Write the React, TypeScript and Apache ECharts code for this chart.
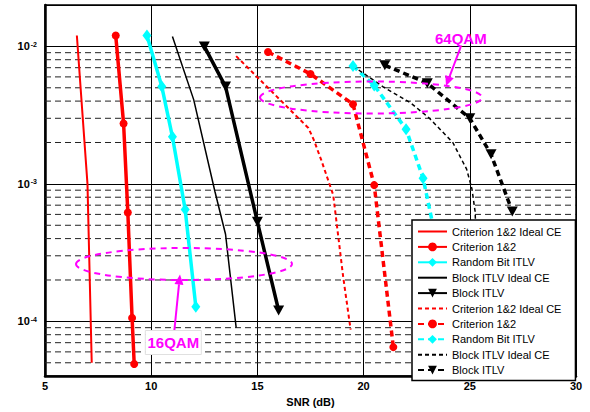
import React, { useEffect, useRef } from 'react';
import * as echarts from 'echarts';

// ---------- data (SNR in dB, BER) ----------
// 16QAM
const snr16CritIdeal = [6.5, 7.0, 7.2];
const ber16CritIdeal = [1.2e-2, 1.0e-3, 5.0e-5];
const snr16Crit = [8.33, 8.7, 8.9, 9.1, 9.2];
const ber16Crit = [1.2e-2, 2.75e-3, 6.2e-4, 1.06e-4, 4.9e-5];
const snr16Rand = [9.8, 10.5, 11.0, 11.6, 12.1];
const ber16Rand = [1.2e-2, 5.1e-3, 2.2e-3, 6.5e-4, 1.28e-4];
const snr16BlockIdeal = [11.0, 12.0, 13.0, 13.5, 14.0];
const ber16BlockIdeal = [1.18e-2, 4.1e-3, 8.8e-4, 4.3e-4, 9.0e-5];
const snr16Block = [12.5, 13.5, 15.0, 16.0];
const ber16Block = [1.0e-2, 5.1e-3, 5.3e-4, 1.2e-4];
// 64QAM
const snr64CritIdeal = [14.0, 17.4, 17.65, 18.0, 18.57, 19.04, 19.39];
const ber64CritIdeal = [8.5e-3, 2.55e-3, 2.1e-3, 1.5e-3, 8.3e-4, 2.1e-4, 8.7e-5];
const snr64Crit = [15.5, 17.5, 19.5, 20.5, 21.4];
const ber64Crit = [9.1e-3, 6.3e-3, 3.8e-3, 9.8e-4, 6.5e-5];
const snr64Rand = [19.5, 20.5, 22.0, 22.8, 23.4];
const ber64Rand = [7.2e-3, 5.2e-3, 2.5e-3, 1.1e-3, 4.0e-4];
const snr64BlockIdeal = [19.5, 20.9, 22.2, 23.1, 24.2, 24.85, 25.1, 25.25, 25.4];
const ber64BlockIdeal = [7.2e-3, 5.1e-3, 3.9e-3, 3.0e-3, 2.0e-3, 1.28e-3, 9.2e-4, 6.3e-4, 1.5e-4];
const snr64Block = [21.0, 23.0, 25.0, 26.0, 27.0];
const ber64Block = [7.3e-3, 5.4e-3, 3.0e-3, 1.64e-3, 6.3e-4];

// axis
const xTicks = [5, 10, 15, 20, 25, 30];
const yMin = 4e-5;
const yMax = 2e-2;
const minorGrid = [
  5e-5, 6e-5, 7e-5, 8e-5, 9e-5,
  2e-4, 3e-4, 4e-4, 5e-4, 6e-4, 7e-4, 8e-4, 9e-4,
  2e-3, 3e-3, 4e-3, 5e-3, 6e-3, 7e-3, 8e-3, 9e-3,
];

const legendNames = [
  'Criterion 1&2 Ideal CE (16QAM)',
  'Criterion 1&2 (16QAM)',
  'Random Bit ITLV (16QAM)',
  'Block ITLV Ideal CE (16QAM)',
  'Block ITLV (16QAM)',
  'Criterion 1&2 Ideal CE (64QAM)',
  'Criterion 1&2 (64QAM)',
  'Random Bit ITLV (64QAM)',
  'Block ITLV Ideal CE (64QAM)',
  'Block ITLV (64QAM)',
];
const noMarker = [true, false, false, true, false, true, false, false, true, false];

const FONT = 'Liberation Sans, Arial, Helvetica, sans-serif';
const RED = '#ff0000';
const CYAN = '#00ffff';
const BLACK = '#000000';
const MAG = '#ff00ff';
const TRI = 'path://M0,0 L10,0 L5,9 Z';

function pairs(xs: number[], ys: number[]) {
  return xs.map((x, i) => [x, ys[i]]);
}

function mkSeries(
  name: string,
  xs: number[],
  ys: number[],
  color: string,
  width: number,
  dashed: boolean,
  symbol: string,
  symbolSize: any
) {
  return {
    name,
    type: 'line',
    data: pairs(xs, ys),
    symbol,
    symbolSize,
    showSymbol: symbol !== 'none',
    lineStyle: { color, width, type: dashed ? (width > 2 ? [6, 4] : [4, 3]) : 'solid' },
    itemStyle: { color, borderWidth: 0 },
    emphasis: { disabled: true },
    z: 2,
  };
}

function arrow(x1: number, y1: number, x2: number, y2: number) {
  const dx = x2 - x1;
  const dy = y2 - y1;
  const L = Math.hypot(dx, dy);
  const ux = dx / L;
  const uy = dy / L;
  const hl = 10;
  const hw = 4.5;
  const bx = x2 - ux * hl;
  const by = y2 - uy * hl;
  return [
    {
      type: 'line',
      z: 3,
      shape: { x1, y1, x2: bx, y2: by },
      style: { stroke: MAG, lineWidth: 2 },
    },
    {
      type: 'polygon',
      z: 3,
      shape: { points: [[x2, y2], [bx - uy * hw, by + ux * hw], [bx + uy * hw, by - ux * hw]] },
      style: { fill: MAG },
    },
  ];
}

function label(text: string, cx: number, cy: number, boxed: boolean) {
  const els: any[] = [];
  if (boxed) {
    els.push({
      type: 'rect',
      z: 3,
      shape: { x: cx - 28, y: cy - 12, width: 56, height: 24 },
      style: { fill: '#ffffff', stroke: '#e0e0e0', lineWidth: 1 },
    });
  }
  els.push({
    type: 'text',
    z: 4,
    x: cx,
    y: cy,
    style: {
      text,
      fill: MAG,
      font: `bold 15px ${FONT}`,
      textAlign: 'center',
      textVerticalAlign: 'middle',
    },
  });
  return els;
}

export default function App() {
  const ref = useRef<HTMLDivElement>(null);
  useEffect(() => {
    document.body.style.margin = '0';
    const chart = echarts.init(ref.current!, null, { renderer: 'svg' });
    const gridSeries: any[] = minorGrid.map((v, i) => ({
      name: `minor-grid-${i}`,
      type: 'line',
      data: [[xTicks[0], v], [xTicks[xTicks.length - 1], v]],
      symbol: 'none',
      showSymbol: false,
      silent: true,
      lineStyle: { color: '#222222', width: 1, type: [6, 4] },
      emphasis: { disabled: true },
      z: 1,
    }));
    const series: any[] = [
      ...gridSeries,
      mkSeries(legendNames[0], snr16CritIdeal, ber16CritIdeal, RED, 2, false, 'none', 0),
      mkSeries(legendNames[1], snr16Crit, ber16Crit, RED, 3.5, false, 'circle', 8),
      mkSeries(legendNames[2], snr16Rand, ber16Rand, CYAN, 3.5, false, 'diamond', [9, 12]),
      mkSeries(legendNames[3], snr16BlockIdeal, ber16BlockIdeal, BLACK, 1.5, false, 'none', 0),
      mkSeries(legendNames[4], snr16Block, ber16Block, BLACK, 3.5, false, TRI, [11, 10]),
      mkSeries(legendNames[5], snr64CritIdeal, ber64CritIdeal, RED, 2, true, 'none', 0),
      mkSeries(legendNames[6], snr64Crit, ber64Crit, RED, 3.5, true, 'circle', 8),
      mkSeries(legendNames[7], snr64Rand, ber64Rand, CYAN, 3.5, true, 'diamond', [9, 12]),
      mkSeries(legendNames[8], snr64BlockIdeal, ber64BlockIdeal, BLACK, 1.5, true, 'none', 0),
      mkSeries(legendNames[9], snr64Block, ber64Block, BLACK, 3.5, true, TRI, [11, 10]),
    ];

    const graphic: any[] = [
      {
        type: 'ellipse',
        z: 3,
        shape: { cx: 184, cy: 264, rx: 108, ry: 16 },
        style: { fill: 'none', stroke: MAG, lineWidth: 2, lineDash: [6, 5] },
      },
      {
        type: 'ellipse',
        z: 3,
        shape: { cx: 371, cy: 97.5, rx: 111, ry: 16 },
        style: { fill: 'none', stroke: MAG, lineWidth: 2, lineDash: [6, 5] },
      },
      ...arrow(174.3, 331, 180, 274.5),
      ...arrow(460.7, 47, 446, 86),
      ...label('16QAM', 173.3, 342.5, true),
      ...label('64QAM', 460.8, 38.8, false),
    ];

    chart.setOption({
      animation: false,
      backgroundColor: '#ffffff',
      textStyle: { fontFamily: FONT },
      tooltip: { show: false },
      grid: {
        left: 45,
        right: 14,
        top: 5,
        bottom: 33,
        show: true,
        borderColor: '#000',
        borderWidth: 1.5,
        backgroundColor: 'transparent',
      },
      legend: {
        orient: 'vertical',
        left: 412,
        top: 220,
        padding: [6, 14, 5, 5],
        itemWidth: 29,
        itemHeight: 11,
        itemGap: 4.4,
        backgroundColor: '#ffffff',
        borderColor: '#000000',
        borderWidth: 1.5,
        borderRadius: 0,
        selectedMode: false,
        data: legendNames.map((name, i) =>
          noMarker[i] ? { name, itemStyle: { opacity: 0 } } : { name }
        ),
        formatter: (n: string) => n.replace(/ \((16|64)QAM\)$/, ''),
        textStyle: { fontSize: 11, color: '#000', fontFamily: FONT },
        z: 10,
      },
      xAxis: {
        type: 'value',
        min: xTicks[0],
        max: xTicks[xTicks.length - 1],
        interval: 5,
        name: 'SNR (dB)',
        nameLocation: 'middle',
        nameGap: 17,
        nameTextStyle: { fontWeight: 'bold', fontSize: 11, color: '#000', fontFamily: FONT },
        axisLine: { show: true, lineStyle: { color: '#000', width: 2.5 } },
        axisTick: { show: false },
        axisLabel: { color: '#000', fontWeight: 'bold', fontSize: 11, margin: 4, fontFamily: FONT },
        splitLine: { show: true, lineStyle: { color: '#000', width: 1 } },
      },
      yAxis: {
        type: 'log',
        logBase: 10,
        min: yMin,
        max: yMax,
        axisLine: { show: true, lineStyle: { color: '#000', width: 2.5 } },
        axisTick: { show: false },
        axisLabel: {
          color: '#000',
          margin: 8,
          fontFamily: FONT,
          formatter: (v: number) => {
            const lg = Math.log10(v);
            const e = Math.round(lg);
            if (Math.abs(lg - e) > 1e-6) return '';
            return `{b|10}{s|${e < 0 ? '-' : ''}${Math.abs(e)}}`;
          },
          rich: {
            b: { fontSize: 11, fontWeight: 'bold', color: '#000', fontFamily: FONT },
            s: { fontSize: 7, fontWeight: 'bold', color: '#000', verticalAlign: 'top', padding: [0, 0, 0, 1], fontFamily: FONT },
          },
        },
        splitLine: { show: true, lineStyle: { color: '#000', width: 1 } },
      },
      series,
      graphic,
    });
    return () => chart.dispose();
  }, []);
  return <div ref={ref} style={{ width: 590, height: 412 }} />;
}
